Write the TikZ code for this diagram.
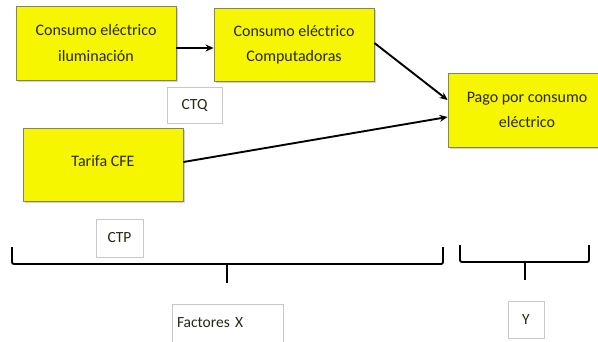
\documentclass[tikz,border=0pt]{standalone}
\usepackage{fontspec}
\setmainfont{Carlito}
\usetikzlibrary{arrows.meta,shadows}
\definecolor{boxyellow}{RGB}{246,246,0}
\definecolor{boxedge}{RGB}{130,130,110}
\definecolor{tagedge}{RGB}{200,200,200}
\definecolor{inktext}{RGB}{40,40,20}
\tikzset{
  factor/.style={draw=boxedge, line width=0.8pt, fill=boxyellow,
    drop shadow={shadow xshift=1.5pt, shadow yshift=-1.5pt, opacity=0.35},
    text=inktext, align=center, inner sep=0pt,
    font=\fontsize{16}{25.5}\selectfont},
  tag/.style={draw=tagedge, line width=0.7pt, fill=white,
    text=inktext, inner sep=0pt, font=\fontsize{15.5}{18}\selectfont},
  link/.style={line width=1.9pt, -{Stealth[length=8pt,width=7pt]}},
  brace/.style={line width=1.9pt, rounded corners=2pt}
}
\begin{document}
\begin{tikzpicture}[x=1pt,y=-1pt]
\useasboundingbox (0,0) rectangle (598,341);

% yellow factor boxes
\node[factor, minimum width=160pt, minimum height=74pt] (ilum) at (96,43)
  {Consumo eléctrico\\iluminación};
\node[factor, minimum width=160pt, minimum height=73pt] (comp) at (294,44.5)
  {Consumo eléctrico\\Computadoras};
\node[factor, minimum width=160pt, minimum height=73pt] (tarifa) at (103,164.5)
  {\raisebox{7pt}{Tarifa CFE}};
\node[factor, minimum width=158pt, minimum height=74pt] (pago) at (527,110)
  {Pago por consumo\\eléctrico};

% small label boxes
\node[tag, minimum width=55pt, minimum height=36pt] (ctq) at (194.5,105) {CTQ};
\node[tag, minimum width=47pt, minimum height=38pt] (ctp) at (119.5,238) {CTP};
\node[tag, minimum width=111pt, minimum height=40pt, text width=101pt, align=left]
  (fx) at (227.5,324) {\raisebox{3pt}{Factores X}};
\node[tag, minimum width=36pt, minimum height=37pt] (fy) at (526,319.5) {Y};

% arrows between factors
\draw[link] ([yshift=-5pt]ilum.east) -- ([yshift=-3.5pt]comp.west);
\draw[link] ([yshift=1.5pt]comp.east) -- ([yshift=10pt]pago.west);
\draw[link] ([yshift=2.5pt]tarifa.east) -- ([yshift=-7pt]pago.west);

% brace for the X factors
\coordinate (xl) at (12,247);
\coordinate (xr) at (443,247);
\coordinate (xm) at (227,264);
\coordinate (xt) at (227,283);
\draw[brace] (xl) -- (xl |- xm) -- (xr |- xm) -- (xr);
\draw[line width=1.9pt] (xm) -- (xt);

% brace for Y
\coordinate (yl) at (460,245);
\coordinate (yr) at (589,245);
\coordinate (ym) at (525,262);
\coordinate (yt) at (525,280);
\draw[brace] (yl) -- (yl |- ym) -- (yr |- ym) -- (yr);
\draw[line width=1.9pt] (ym) -- (yt);
\end{tikzpicture}
\end{document}
